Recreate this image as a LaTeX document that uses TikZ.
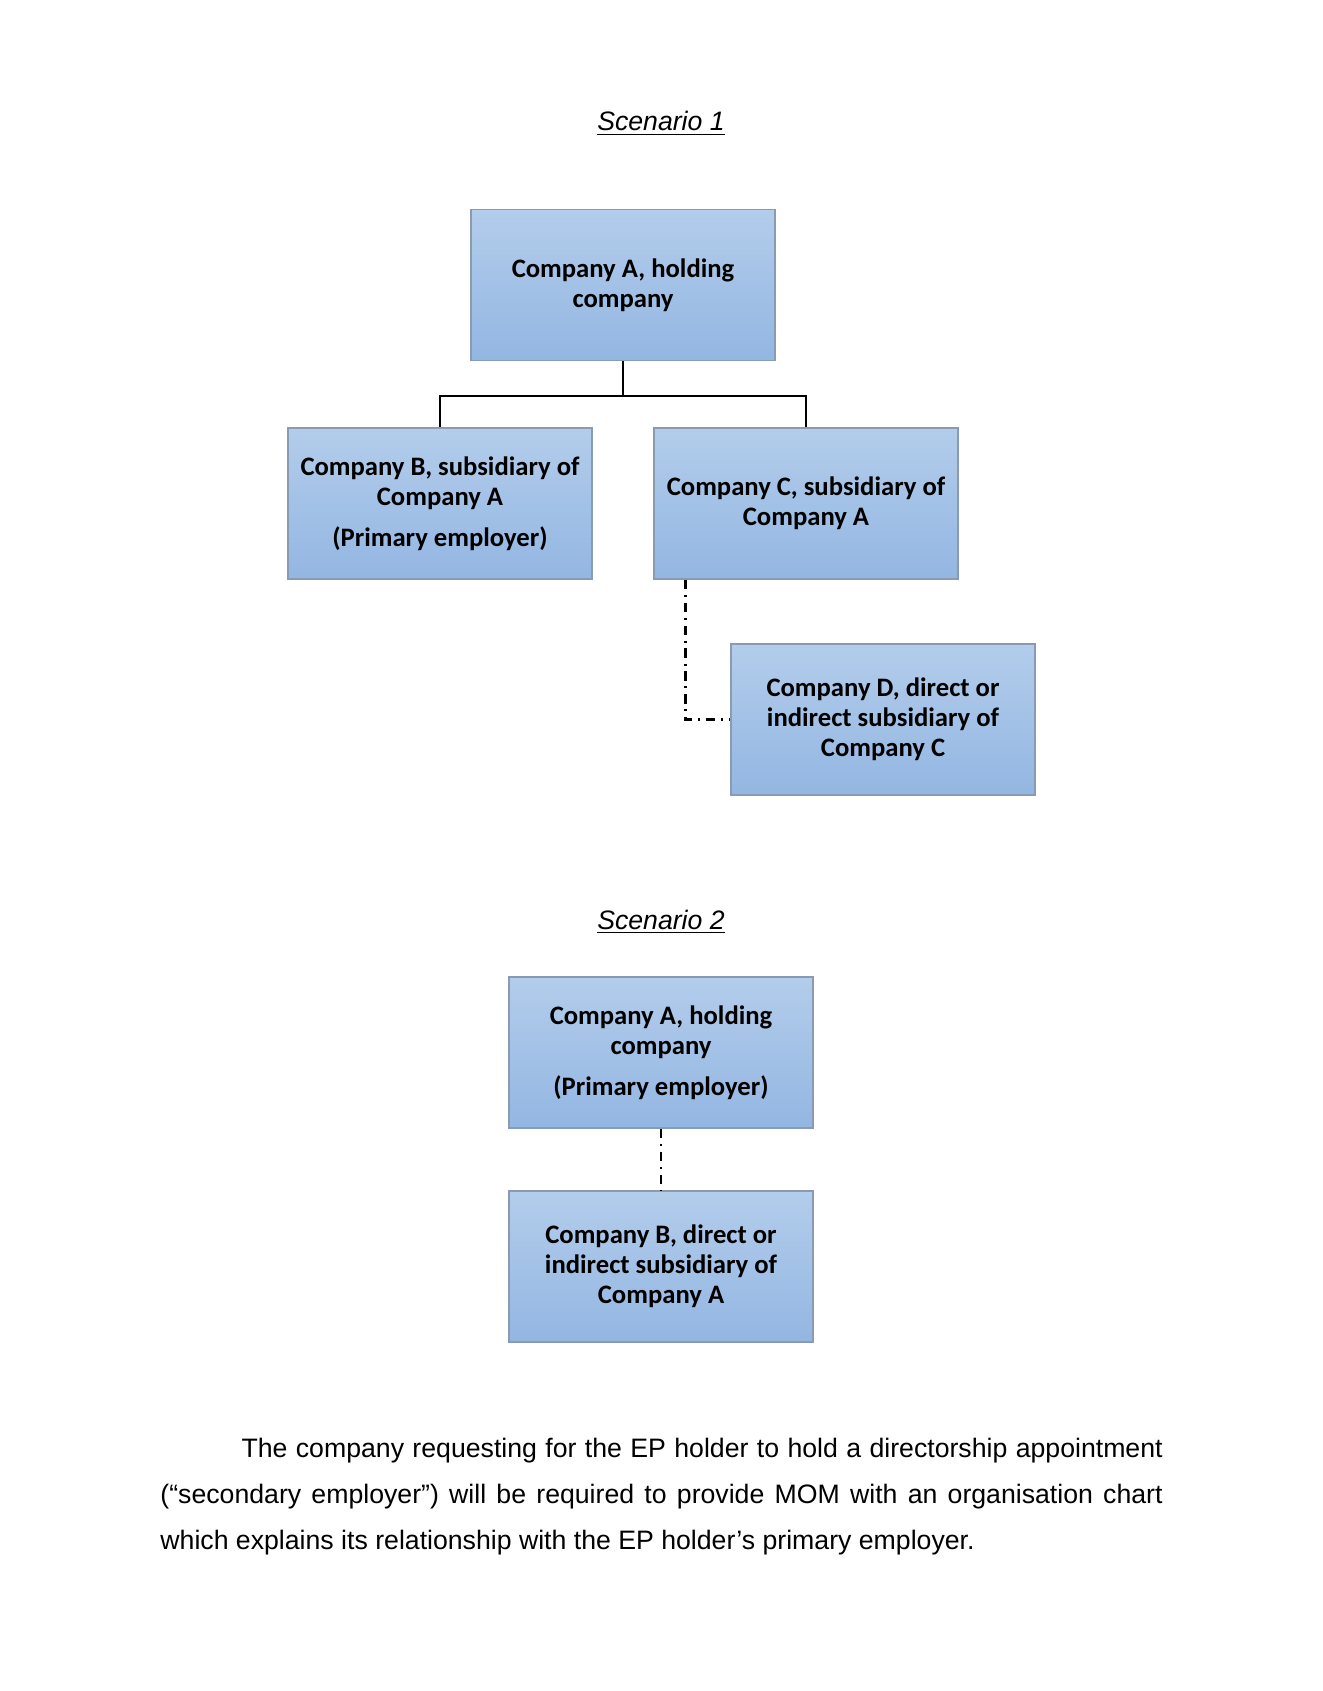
\documentclass[tikz,border=0pt]{standalone}
\usepackage{fontspec}
\setmainfont{Liberation Sans}
\newfontfamily\boxfont{Carlito}
\usetikzlibrary{calc}
\definecolor{boxtop}{HTML}{B3CDEB}
\definecolor{boxbot}{HTML}{93B6E2}
\definecolor{boxline}{HTML}{8A9AB2}
\tikzset{
  orgbox/.style={draw=boxline, line width=0.6pt, top color=boxtop, bottom color=boxbot,
    minimum width=136.8pt, minimum height=68pt, inner sep=0pt, align=center,
    font=\boxfont\bfseries\fontsize{12}{13.6}\selectfont},
  solidlink/.style={draw=black, line width=0.9pt},
  dashdotlink/.style={draw=black, line width=1.1pt, dash pattern=on 4.2pt off 2.6pt on 0.9pt off 2.6pt},
  title/.style={anchor=base, font=\itshape\fontsize{12}{14}\selectfont}
}
\begin{document}
\begin{tikzpicture}[x=0.45pt, y=-0.45pt]
\useasboundingbox (0,0) rectangle (1323,1691);
% Scenario 1
\node[title] (t1) at (661,131) {\underline{Scenario 1}};
\node[orgbox] (A1) at (623,285) {Company A, holding\\company};
\node[orgbox] (B1) at (440,503.5) {Company B, subsidiary of\\Company A\\[4.8pt](Primary employer)};
\node[orgbox] (C1) at (806,503.5) {Company C, subsidiary of\\Company A};
\node[orgbox] (D1) at (883,719.5) {Company D, direct or\\indirect subsidiary of\\Company C};
\coordinate (bar) at (623,396);
\draw[solidlink] (A1.south) -- (bar);
\draw[solidlink] (B1.north) |- (bar) -| (C1.north);
\draw[dashdotlink] ([xshift=14.4pt]C1.south west) |- (D1.west);
% Scenario 2
\node[title] (t2) at (661,929) {\underline{Scenario 2}};
\node[orgbox] (A2) at (661,1052.5) {Company A, holding\\company\\[4.8pt](Primary employer)};
\node[orgbox] (B2) at (661,1266.5) {Company B, direct or\\indirect subsidiary of\\Company A};
\draw[dashdotlink] (A2.south) -- (B2.north);
% Paragraph
\node[anchor=base west, text width=451pt, inner sep=0pt, align=justify,
  font=\fontsize{12}{20.7}\selectfont] (para) at (160,1457)
  {\hspace*{36.5pt}The company requesting for the EP holder to hold a directorship appointment (“secondary employer”) will be required to provide MOM with an organisation chart which explains its relationship with the EP holder’s primary employer.};
\end{tikzpicture}
\end{document}
